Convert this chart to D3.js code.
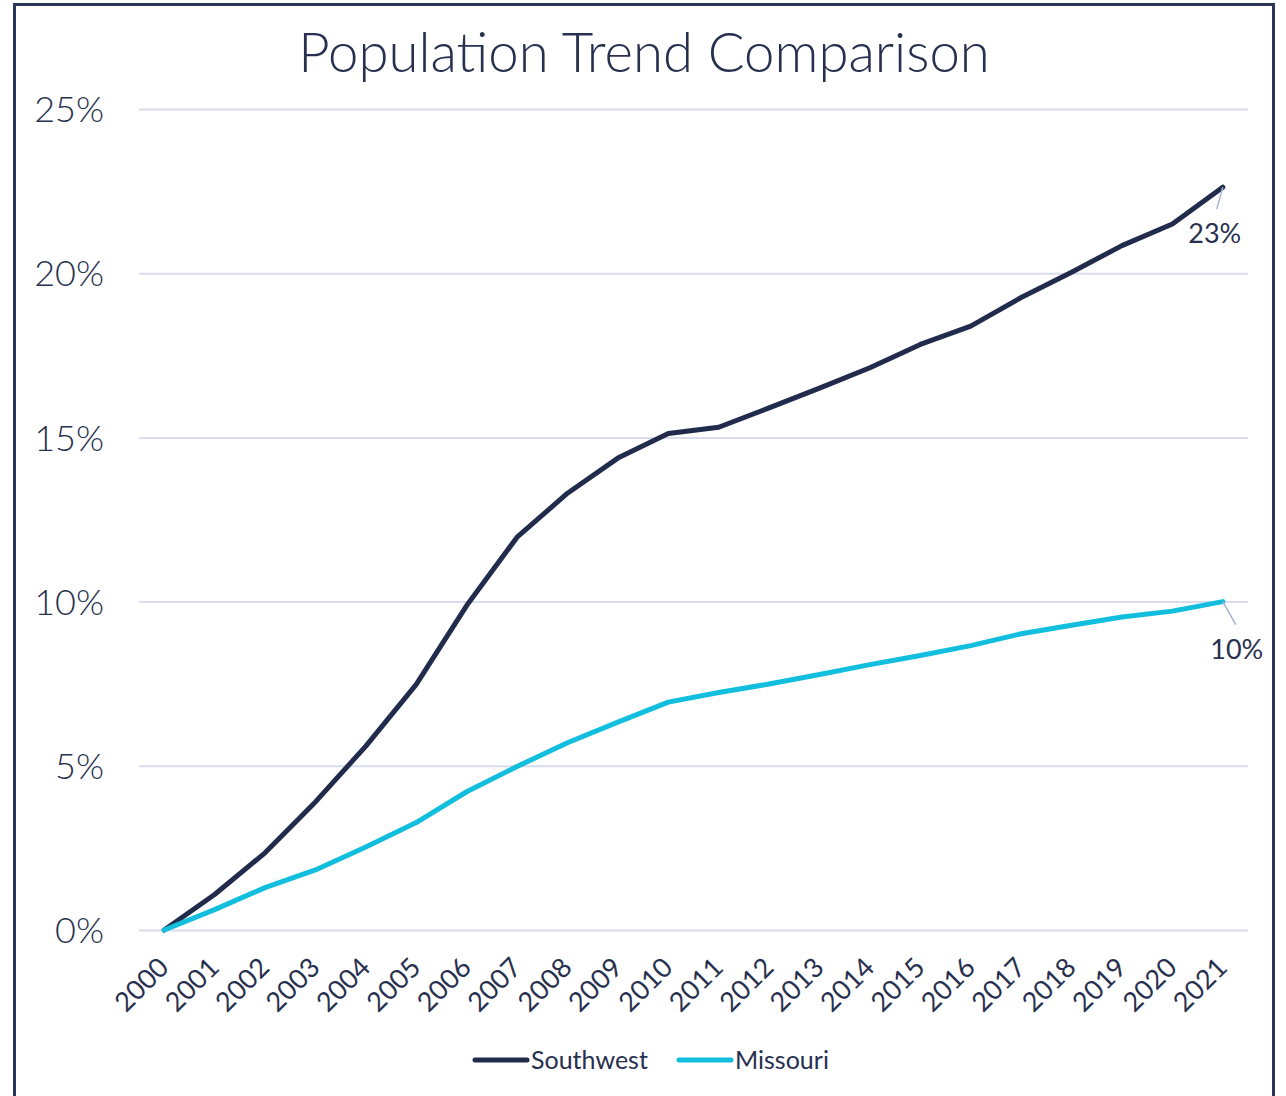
<!DOCTYPE html>
<html>
<head>
<meta charset="utf-8">
<script src="https://cdn.jsdelivr.net/npm/d3@7"></script>
<style>
  body { margin: 0; background: #fff; }
  svg { display: block; font-family: "Century Gothic", Lato, "Open Sans", sans-serif; font-weight: 400; }
</style>
</head>
<body>
<div id="chart"></div>
<script>
// population change since 2000, in percent
const years = ['2000', '2001', '2002', '2003', '2004', '2005', '2006', '2007', '2008', '2009', '2010',
  '2011', '2012', '2013', '2014', '2015', '2016', '2017', '2018', '2019', '2020', '2021'];
const southwest = [0, 1.08, 2.35, 3.9, 5.6, 7.48, 9.88, 11.96, 13.3, 14.37, 15.12,
  15.31, 15.9, 16.5, 17.12, 17.83, 18.39, 19.26, 20.03, 20.84, 21.5, 22.62];
const missouri = [0, 0.62, 1.29, 1.83, 2.53, 3.27, 4.21, 4.98, 5.7, 6.33, 6.94,
  7.23, 7.49, 7.78, 8.08, 8.36, 8.66, 9.02, 9.28, 9.53, 9.71, 10.0];
const yTicks = [0, 5, 10, 15, 20, 25];

const W = 1286, H = 1096;
const margin = { top: 109, right: 38, bottom: 166, left: 139 };
const width = W - margin.left - margin.right;
const height = H - margin.top - margin.bottom;

const navy = '#212c4d';
const cyan = '#11bedd';
const textColor = '#28304f';

const svg = d3.select('#chart').append('svg')
  .attr('width', W)
  .attr('height', H);

// outer frame
svg.append('rect')
  .attr('x', 14.5).attr('y', 4.5)
  .attr('width', 1259).attr('height', 1200)
  .attr('fill', 'none')
  .attr('stroke', '#2b3557')
  .attr('stroke-width', 3);

svg.append('text')
  .attr('x', 644).attr('y', 72)
  .attr('text-anchor', 'middle')
  .attr('fill', textColor)
  .style('font-size', '54.5px')
  .style('font-weight', 300)
  .text('Population Trend Comparison');

const g = svg.append('g')
  .attr('transform', `translate(${margin.left},${margin.top})`);

const x = d3.scaleBand()
  .domain(years)
  .range([0, width]);

const y = d3.scaleLinear()
  .domain([0, 25])
  .range([height, 0]);

const px = d => x(d) + x.bandwidth() / 2;

// gridlines + y labels
const yAxis = g.append('g')
  .call(d3.axisLeft(y).tickValues(yTicks).tickSize(-width).tickFormat(d => d + '%'))
  .attr('font-family', null);
yAxis.select('.domain').remove();
yAxis.selectAll('.tick line')
  .attr('stroke', '#d8dcee')
  .attr('stroke-width', 2);
yAxis.selectAll('.tick text')
  .attr('x', -35)
  .attr('dy', '0.35em')
  .attr('fill', textColor)
  .style('font-size', '36px')
  .style('font-weight', 300);

// x labels
const xAxis = g.append('g')
  .attr('transform', `translate(0,${height})`)
  .call(d3.axisBottom(x).tickSize(0))
  .attr('font-family', null);
xAxis.select('.domain').remove();
xAxis.selectAll('.tick text')
  .attr('fill', textColor)
  .style('font-size', '27px')
  .style('text-anchor', 'end')
  .attr('dx', 0)
  .attr('dy', 0)
  .attr('transform', 'translate(4,37) rotate(-45)');

const line = d3.line()
  .x((d, i) => px(years[i]))
  .y(d => y(d));

const series = [
  { name: 'Southwest', values: southwest, color: navy },
  { name: 'Missouri', values: missouri, color: cyan }
];

g.selectAll('.series')
  .data(series)
  .enter().append('path')
  .attr('class', 'series')
  .attr('d', d => line(d.values))
  .attr('fill', 'none')
  .attr('stroke', d => d.color)
  .attr('stroke-width', 5)
  .attr('stroke-linejoin', 'round')
  .attr('stroke-linecap', 'round');

// end labels with leader lines
const last = years.length - 1;
const labels = [
  { values: southwest, dx: -6, dy: 22, tx: -8, ty: 56 },
  { values: missouri, dx: 13, dy: 23, tx: 14, ty: 57 }
];
labels.forEach(l => {
  const lx = px(years[last]);
  const ly = y(l.values[last]);
  g.append('line')
    .attr('x1', lx).attr('y1', ly)
    .attr('x2', lx + l.dx).attr('y2', ly + l.dy)
    .attr('stroke', '#a6b1d6')
    .attr('stroke-width', 1.5);
  g.append('text')
    .attr('x', lx + l.tx).attr('y', ly + l.ty)
    .attr('text-anchor', 'middle')
    .attr('fill', textColor)
    .style('font-size', '27px')
    .text(Math.round(l.values[last]) + '%');
});

// legend
const legend = svg.append('g')
  .attr('transform', 'translate(475,1060)');
const items = legend.selectAll('g')
  .data(series)
  .enter().append('g')
  .attr('transform', (d, i) => `translate(${i * 204},0)`);
items.append('line')
  .attr('x1', 0).attr('x2', 52)
  .attr('stroke', d => d.color)
  .attr('stroke-width', 5)
  .attr('stroke-linecap', 'round');
items.append('text')
  .attr('x', 56).attr('dy', '0.35em')
  .attr('fill', textColor)
  .style('font-size', '25px')
  .text(d => d.name);
</script>
</body>
</html>
